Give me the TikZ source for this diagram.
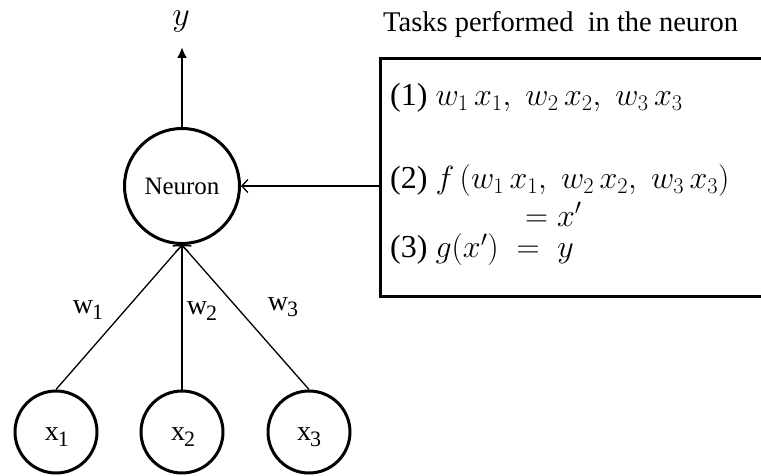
\RequirePackage{fix-cm}
\documentclass[tikz,border=0pt]{standalone}
\usepackage{fontspec}
\setmainfont{Liberation Serif}
\usetikzlibrary{arrows.meta}
\newcommand{\subl}[2]{#1\kern-1pt\raisebox{-6pt}{\fontsize{22}{22}\selectfont #2}}
\newcommand{\wx}[1]{w_{#1}\,x_{#1}}
\begin{document}
\begin{tikzpicture}[x=1pt,y=-1pt,
  neuroncirc/.style={circle,draw,line width=3pt,inner sep=0pt,minimum size=115pt},
  inputcirc/.style={circle,draw,line width=3pt,inner sep=0pt,minimum size=82pt},
  conn/.style={line width=1.3pt,-{Straight Barb[length=6pt,width=13pt]}},
  lbl/.style={inner sep=0pt,font=\fontsize{28}{28}\selectfont},
  mathline/.style={inner sep=0pt,anchor=base west,font=\fontsize{32}{34}\selectfont}]
\useasboundingbox (0,0) rectangle (761,476);
% neuron and inputs
\node[neuroncirc] (neuron) at (182,186) {\fontsize{25}{25}\selectfont Neuron};
\node[inputcirc] (x1) at (56,432) {};
\node[inputcirc] (x2) at (182,432) {};
\node[inputcirc] (x3) at (309,432) {};
\node[lbl] (lx1) at (57,437) {\subl{x}{1}};
\node[lbl] (lx2) at (183,437) {\subl{x}{2}};
\node[lbl] (lx3) at (309,437) {\subl{x}{3}};
% output
\coordinate (ytip) at (182,47);
\draw[line width=2.5pt,-{Latex[length=11pt,width=10pt]}] (neuron.north) -- (ytip);
\node[inner sep=0pt,anchor=base,font=\fontsize{34}{34}\selectfont] (ylab) at (181,26) {$y$};
% input connectors
\draw[conn] (x1.north) -- (neuron.south);
\draw[conn] (x2.north) -- (neuron.south);
\draw[conn] (x3.north) -- (neuron.south);
\node[lbl] (w1) at (88,310) {\subl{w}{1}};
\node[lbl] (w2) at (202,311) {\subl{w}{2}};
\node[lbl] (w3) at (283,307) {\subl{w}{3}};
% task box
\node[inner sep=0pt,anchor=base west,font=\fontsize{28.5}{30}\selectfont] (title) at (383,32) {Tasks performed\ \ in the neuron};
\node[draw,line width=3pt,inner sep=0pt,outer sep=0pt,minimum width=386pt,minimum height=237pt,anchor=north west] (box) at (380,59) {};
\draw[conn] (neuron -| box.west) -- (neuron.east);
\node[mathline] (t1) at (390,106) {(1) $\wx1,\;\wx2,\;\wx3$};
\node[mathline] (t2) at (390,189) {(2) $f\,(\wx1,\;\wx2,\;\wx3)$};
\node[mathline] (t2b) at (525,226) {$= x'$};
\node[mathline] (t3) at (390,258) {(3) $g(x')\;=\;y$};
\end{tikzpicture}
\end{document}
